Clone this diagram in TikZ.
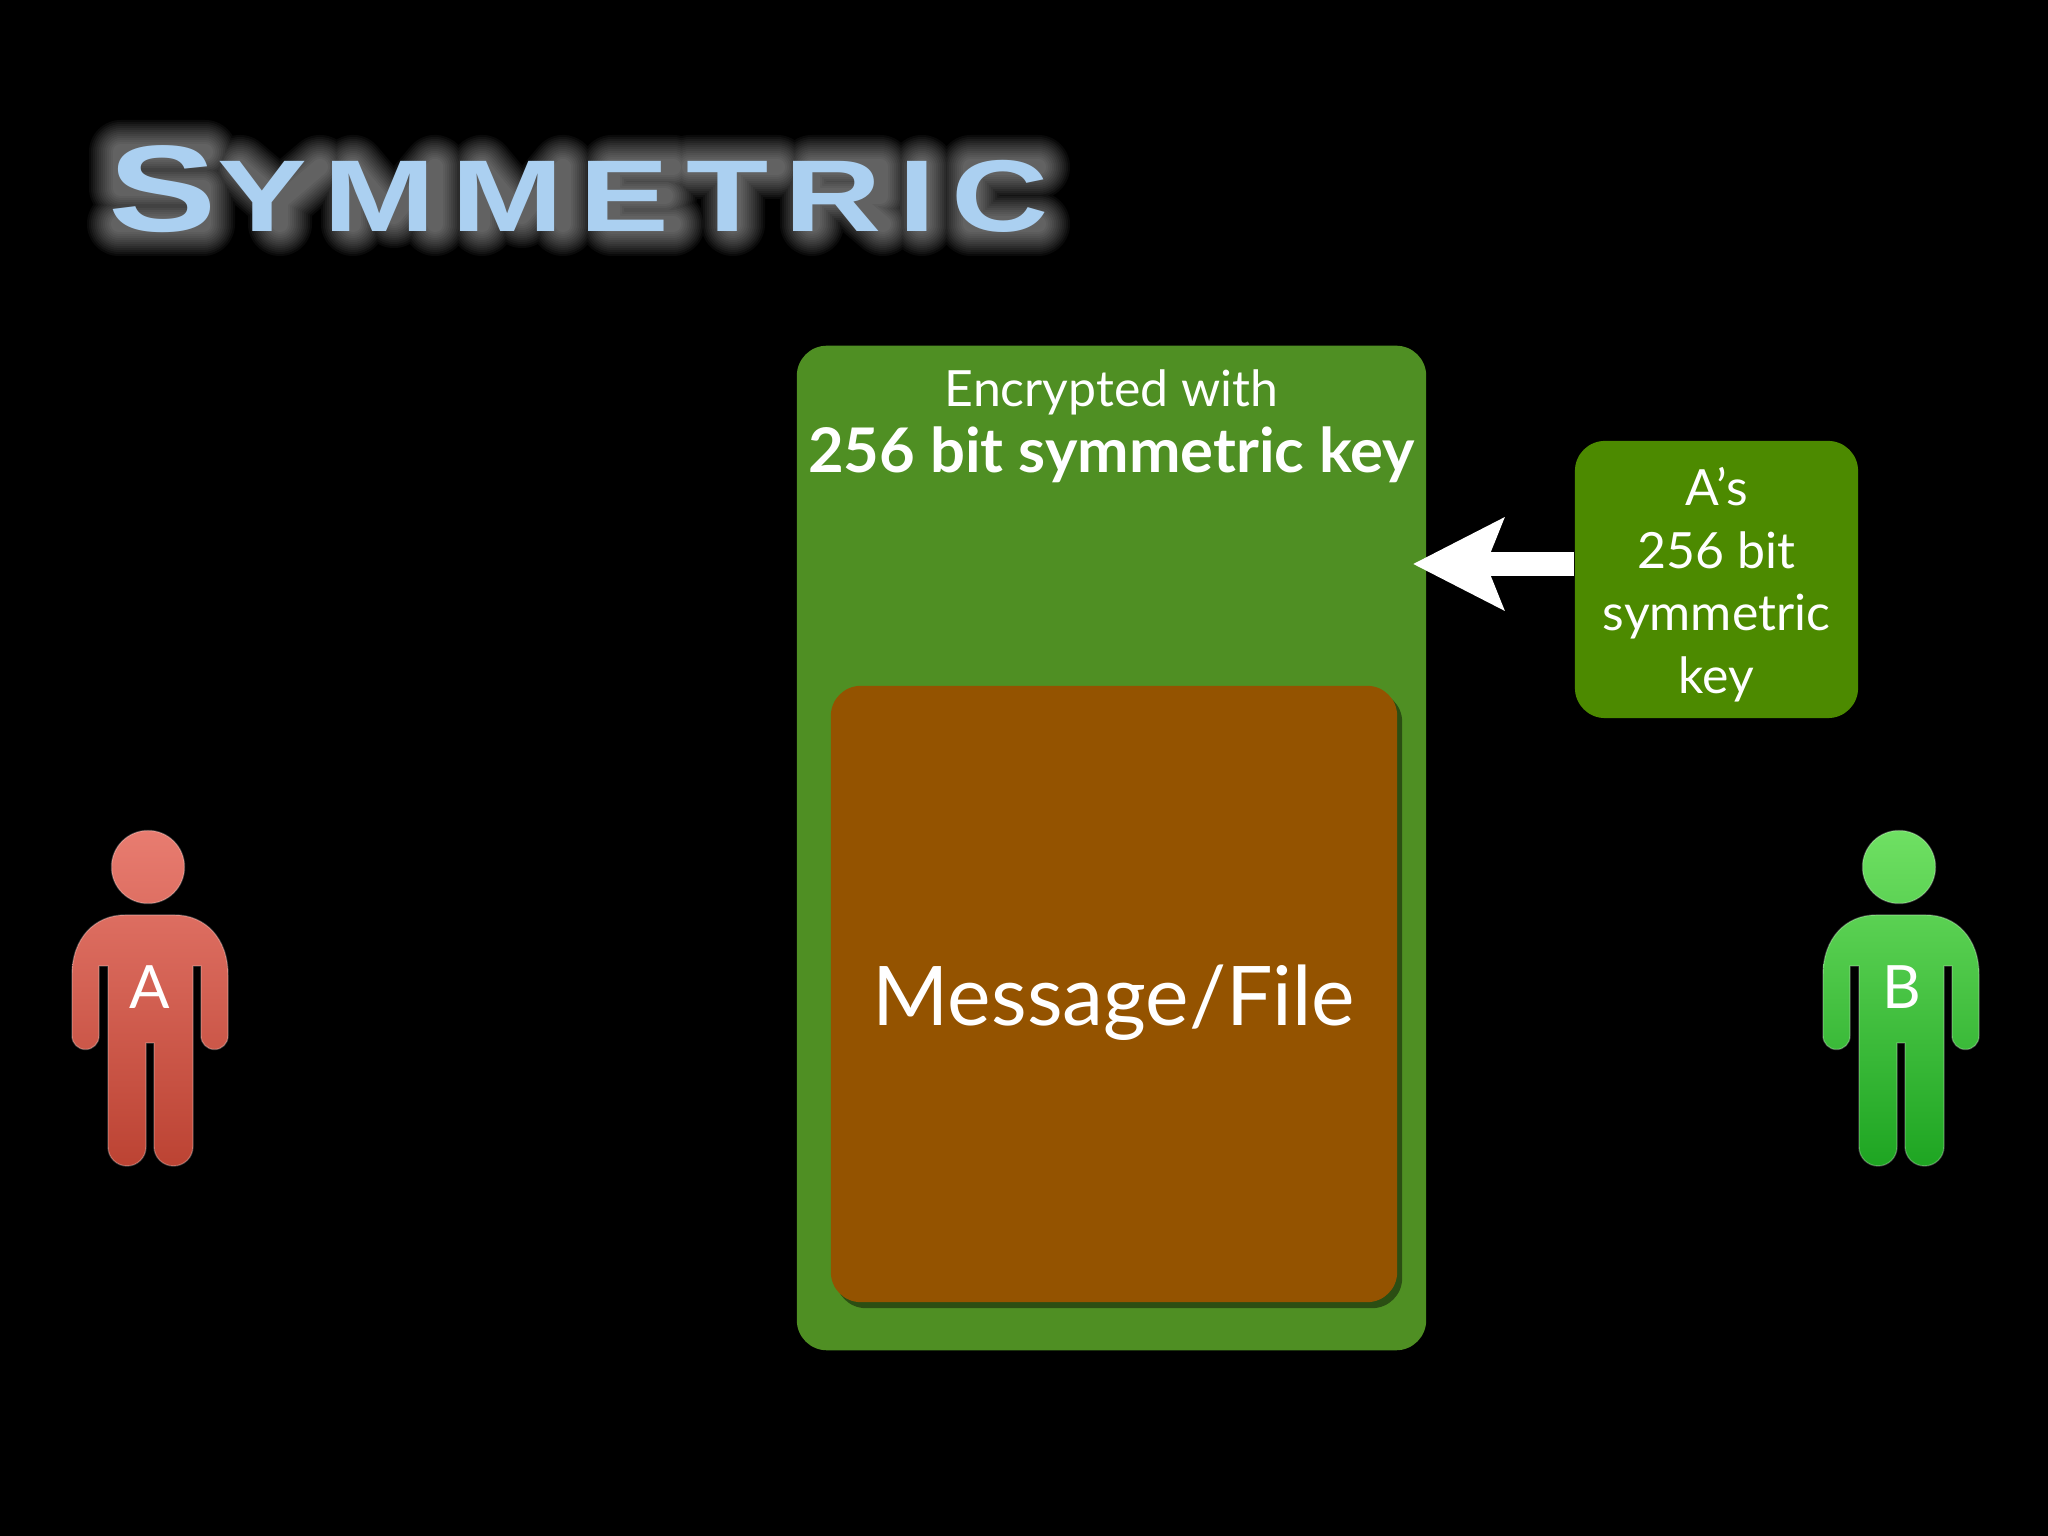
\documentclass[tikz,border=0pt]{standalone}
\usepackage{fontspec}
\usepackage{tikz}
\usetikzlibrary{positioning, arrows.meta, shadows}
\setmainfont{Lato}
\newfontfamily\titlefont[FakeStretch=1.32, LetterSpace=16]{Liberation Sans Bold}

\definecolor{encgreen}{HTML}{4F8F23}
\definecolor{keygreen}{HTML}{4C8A00}
\definecolor{msgbrown}{HTML}{945300}
\definecolor{titleblue}{HTML}{ABD0F1}
\definecolor{redtop}{HTML}{E87C70}
\definecolor{redbottom}{HTML}{BC4333}
\definecolor{greentop}{HTML}{6FE063}
\definecolor{greenbottom}{HTML}{1EA522}

\tikzset{
    box/.style={inner sep=0pt, rounded corners=0.3cm},
    bodytext/.style={inner sep=0pt, text=white, align=center},
    glow/.style={draw=white, opacity=0.04, line cap=round, line join=round},
}

\begin{document}
\begin{tikzpicture}[x=0.01cm, y=0.01cm]
        %\draw[step=100,gray,very thin] (0,0) grid (2048,1536);

        \fill[black] (0,0) rectangle (2048,1536);
        \useasboundingbox (0,0) rectangle (2048,1536);

        \def\personBody{(-76,191) .. controls (-76,228) and (-53,251) .. (-23,251) -- (27,251)
            .. controls (57,251) and (80,228) .. (80,191) -- (80,130) arc (0:-180:13.5)
            -- (53,200) -- (45,200) -- (45,19.5) arc (0:-180:19.5) -- (6,123) -- (-2,123)
            -- (-2,19) arc (0:-180:19) -- (-40,200) -- (-49,200) -- (-49,130)
            arc (0:-180:13.5) -- cycle}
        \def\personHead{(0,299) circle (36.5)}

        % glow behind the title, along the strokes of its letters
        \def\titleGlow{(205,1384) -- (121,1384) -- (121,1348) -- (203,1348) -- (203,1312) -- (119,1312)
            (240,1369) -- (280,1335) -- (320,1369) (280,1335) -- (280,1312)
            (353,1312) -- (353,1369) -- (394,1320) -- (435,1369) -- (435,1312)
            (482,1312) -- (482,1369) -- (522,1320) -- (563,1369) -- (563,1312)
            (673,1369) -- (612,1369) -- (612,1312) -- (673,1312) (612,1340) -- (665,1340)
            (690,1369) -- (777,1369) (733,1369) -- (733,1312)
            (812,1312) -- (812,1369) -- (880,1369) -- (880,1340) -- (812,1340) (850,1340) -- (883,1312)
            (922,1369) -- (922,1312)
            (1038,1369) -- (971,1369) -- (971,1312) -- (1038,1312)}
        \foreach \gs in {16,20,...,64} {
            \draw[glow, line width=\gs*0.01cm] \titleGlow;
        }
        \node[anchor=base west, inner sep=0pt, text=titleblue] (title) at (108,1304)
            {\titlefont\fontsize{35}{35}\selectfont S\fontsize{29}{29}\selectfont YMMETRIC};

        \node[box, fill=encgreen, minimum width=6.29cm, minimum height=10.04cm] (enc) at (1111.5,688) {};
        \node[box, fill=msgbrown, minimum width=5.66cm, minimum height=6.16cm,
            drop shadow={shadow xshift=0.05cm, shadow yshift=-0.06cm, fill=black, opacity=0.45}] (msg) at (1114,542) {};
        \node[box, fill=keygreen, minimum width=2.83cm, minimum height=2.77cm] (key) at (1716.5,956.5) {};

        \node[bodytext, font=\fontsize{23.4}{24}\selectfont] (msg_label) at ([yshift=-0.09cm]msg) {Message/File};
        \node[bodytext, font=\fontsize{14.2}{17.8}\selectfont] (key_label) at ([yshift=-0.05cm]key)
            {A’s\\256 bit\\symmetric\\key};

        \node[bodytext, below=0.24cm of enc.north, font=\fontsize{14.2}{17}\selectfont] (enc_label) {Encrypted with};
        \node[bodytext, below=0.1cm of enc_label, font=\fontsize{17.5}{18}\selectfont\bfseries] (enc_bits) {256 bit symmetric key};

        \coordinate (arrow_start) at (key.west |- 0,972);
        \coordinate (arrow_end) at ([xshift=-0.14cm]enc.east |- arrow_start);
        \draw[white, line width=0.24cm, -{Stealth[length=0.9cm, width=0.9cm, inset=0.17cm]}] (arrow_start) -- (arrow_end);

        \begin{scope}[shift={(148,370)}]
            \shade[top color=redtop, bottom color=redbottom, draw=white, draw opacity=0.25]
                \personHead \personBody;
            \node[bodytext, font=\fontsize{17}{17}\selectfont] (person_a) at (2,179) {A};
        \end{scope}

        \begin{scope}[shift={(1899,370)}]
            \shade[top color=greentop, bottom color=greenbottom, draw=white, draw opacity=0.25]
                \personHead \personBody;
            \node[bodytext, font=\fontsize{17}{17}\selectfont] (person_b) at (3,179) {B};
        \end{scope}
        \end{tikzpicture}
\end{document}
